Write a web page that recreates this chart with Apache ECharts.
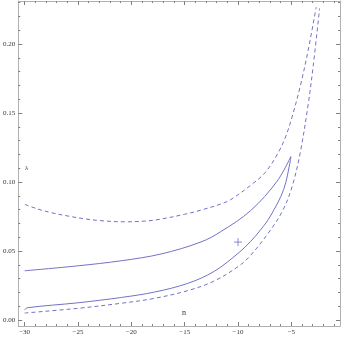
<!DOCTYPE html>
<html>
<head>
<meta charset="utf-8">
<script src="https://cdn.jsdelivr.net/npm/echarts@6/dist/echarts.min.js"></script>
<style>
  html, body { margin: 0; padding: 0; background: #fff; }
  #chart { width: 342px; height: 338px; }
</style>
</head>
<body>
<div id="chart"></div>
<script>
// ticks
const xMajorTicks = [-30, -25, -20, -15, -10, -5];
const xMinorTicks = [-30, -29, -28, -27, -26, -25, -24, -23, -22, -21, -20, -19, -18, -17, -16,
  -15, -14, -13, -12, -11, -10, -9, -8, -7, -6, -5, -4, -3, -2, -1];
const yMajorTicks = [0, 0.05, 0.1, 0.15, 0.2];
const yMinorTicks = [0, 0.01, 0.02, 0.03, 0.04, 0.05, 0.06, 0.07, 0.08, 0.09, 0.1, 0.11, 0.12,
  0.13, 0.14, 0.15, 0.16, 0.17, 0.18, 0.19, 0.2, 0.21, 0.22, 0.23];

// dashed outer curves
const upperDashX = [-29.98, -28.74, -27.5, -25.95, -24.39, -22.85, -20.67, -18.75, -17.5, -15.03, -13.47, -11.61, -10.68, -8.54, -7.42, -6.3, -5.55, -4.91, -4.16, -3.42, -2.67];
const upperDashY = [0.0838, 0.0804, 0.0778, 0.0754, 0.0734, 0.0720, 0.0712, 0.0717, 0.0728, 0.0766, 0.0797, 0.0841, 0.0873, 0.0993, 0.1072, 0.1203, 0.1326, 0.1478, 0.1696, 0.1957, 0.2268];
const lowerDashX = [-30, -25.02, -20.92, -17.85, -14.68, -12.26, -9.93, -8.82, -6.96, -5.75, -4.91, -4.16, -3.42, -2.96, -2.35];
const lowerDashY = [0.0051, 0.0085, 0.0122, 0.0157, 0.0214, 0.0282, 0.0391, 0.0469, 0.0652, 0.0803, 0.0972, 0.1216, 0.1564, 0.1836, 0.2259];

// solid closed contour (two branches meeting at the tip)
const upperSolidX = [-30, -25.02, -20.92, -17.2, -13.47, -11.61, -8.82, -6.33, -5.05];
const upperSolidY = [0.0357, 0.0393, 0.0430, 0.0479, 0.0566, 0.0641, 0.0793, 0.1007, 0.1185];
const lowerSolidX = [-30, -29.77, -25.02, -20.92, -17.82, -14.71, -12.23, -9.91, -8.82, -7.89, -6.96, -5.72, -5.09, -5.05];
const lowerSolidY = [0.0072, 0.0089, 0.0125, 0.0164, 0.0203, 0.0266, 0.0353, 0.0489, 0.0570, 0.0653, 0.0754, 0.0947, 0.1156, 0.1185];

// marked point
const markX = [-10];
const markY = [0.0565];

const lineColor = '#7272c4';
const frameColor = '#b0b0b0';
const tickColor = '#808080';
const textColor = '#333';
const font = 'Liberation Serif';

const zip = (xs, ys) => xs.map((x, i) => [x, ys[i]]);
const fmtX = v => (v < 0 ? '\u2212' : '') + Math.abs(v);

const xRange = { min: -30.6, max: -0.44 };
const yRange = { min: -0.0043, max: 0.2312 };

function xAx(position, ticks, len, showLine, showLabel) {
  return {
    type: 'value', position, ...xRange,
    axisLine: { show: showLine, onZero: false, lineStyle: { color: frameColor, width: 1 } },
    axisTick: { show: true, inside: true, length: len, customValues: ticks, lineStyle: { color: tickColor, width: 1 } },
    axisLabel: { show: showLabel, customValues: ticks, formatter: fmtX, margin: 3,
      color: textColor, fontFamily: font, fontSize: 7 },
    splitLine: { show: false }
  };
}
function yAx(position, ticks, len, showLine, showLabel) {
  return {
    type: 'value', position, ...yRange,
    axisLine: { show: showLine, onZero: false, lineStyle: { color: frameColor, width: 1 } },
    axisTick: { show: true, inside: true, length: len, customValues: ticks, lineStyle: { color: tickColor, width: 1 } },
    axisLabel: { show: showLabel, customValues: ticks, formatter: v => v.toFixed(2), margin: 3,
      color: textColor, fontFamily: font, fontSize: 7 },
    splitLine: { show: false }
  };
}

const curve = (xs, ys, dashed) => ({
  type: 'line', data: zip(xs, ys), showSymbol: false, smooth: 0.35,
  lineStyle: { color: lineColor, width: 1, type: dashed ? [4, 3] : 'solid' }
});

const chart = echarts.init(document.getElementById('chart'));
chart.setOption({
  animation: false,
  grid: { left: 16, right: 2, top: 1, bottom: 12 },
  xAxis: [
    xAx('bottom', xMajorTicks, 4, true, true),
    xAx('bottom', xMinorTicks, 2, false, false),
    xAx('top', xMajorTicks, 4, true, false),
    xAx('top', xMinorTicks, 2, false, false)
  ],
  yAxis: [
    yAx('left', yMajorTicks, 4, true, true),
    yAx('left', yMinorTicks, 2, false, false),
    yAx('right', yMajorTicks, 4, true, false),
    yAx('right', yMinorTicks, 2, false, false)
  ],
  graphic: [
    { type: 'text', left: 25, top: 165, style: { text: 'λ', fill: textColor, font: '7px "Liberation Serif"' } },
    { type: 'text', left: 182, top: 309, style: { text: 'n', fill: textColor, font: '8px "Liberation Serif"' } }
  ],
  series: [
    curve(upperDashX, upperDashY, true),
    curve(lowerDashX, lowerDashY, true),
    curve(upperSolidX, upperSolidY, false),
    curve(lowerSolidX, lowerSolidY, false),
    { type: 'scatter', data: zip(markX, markY), symbol: 'path://M0,5L10,5M5,0L5,10', symbolSize: 8,
      itemStyle: { color: 'none', borderColor: lineColor, borderWidth: 1 } }
  ]
});
</script>
</body>
</html>
